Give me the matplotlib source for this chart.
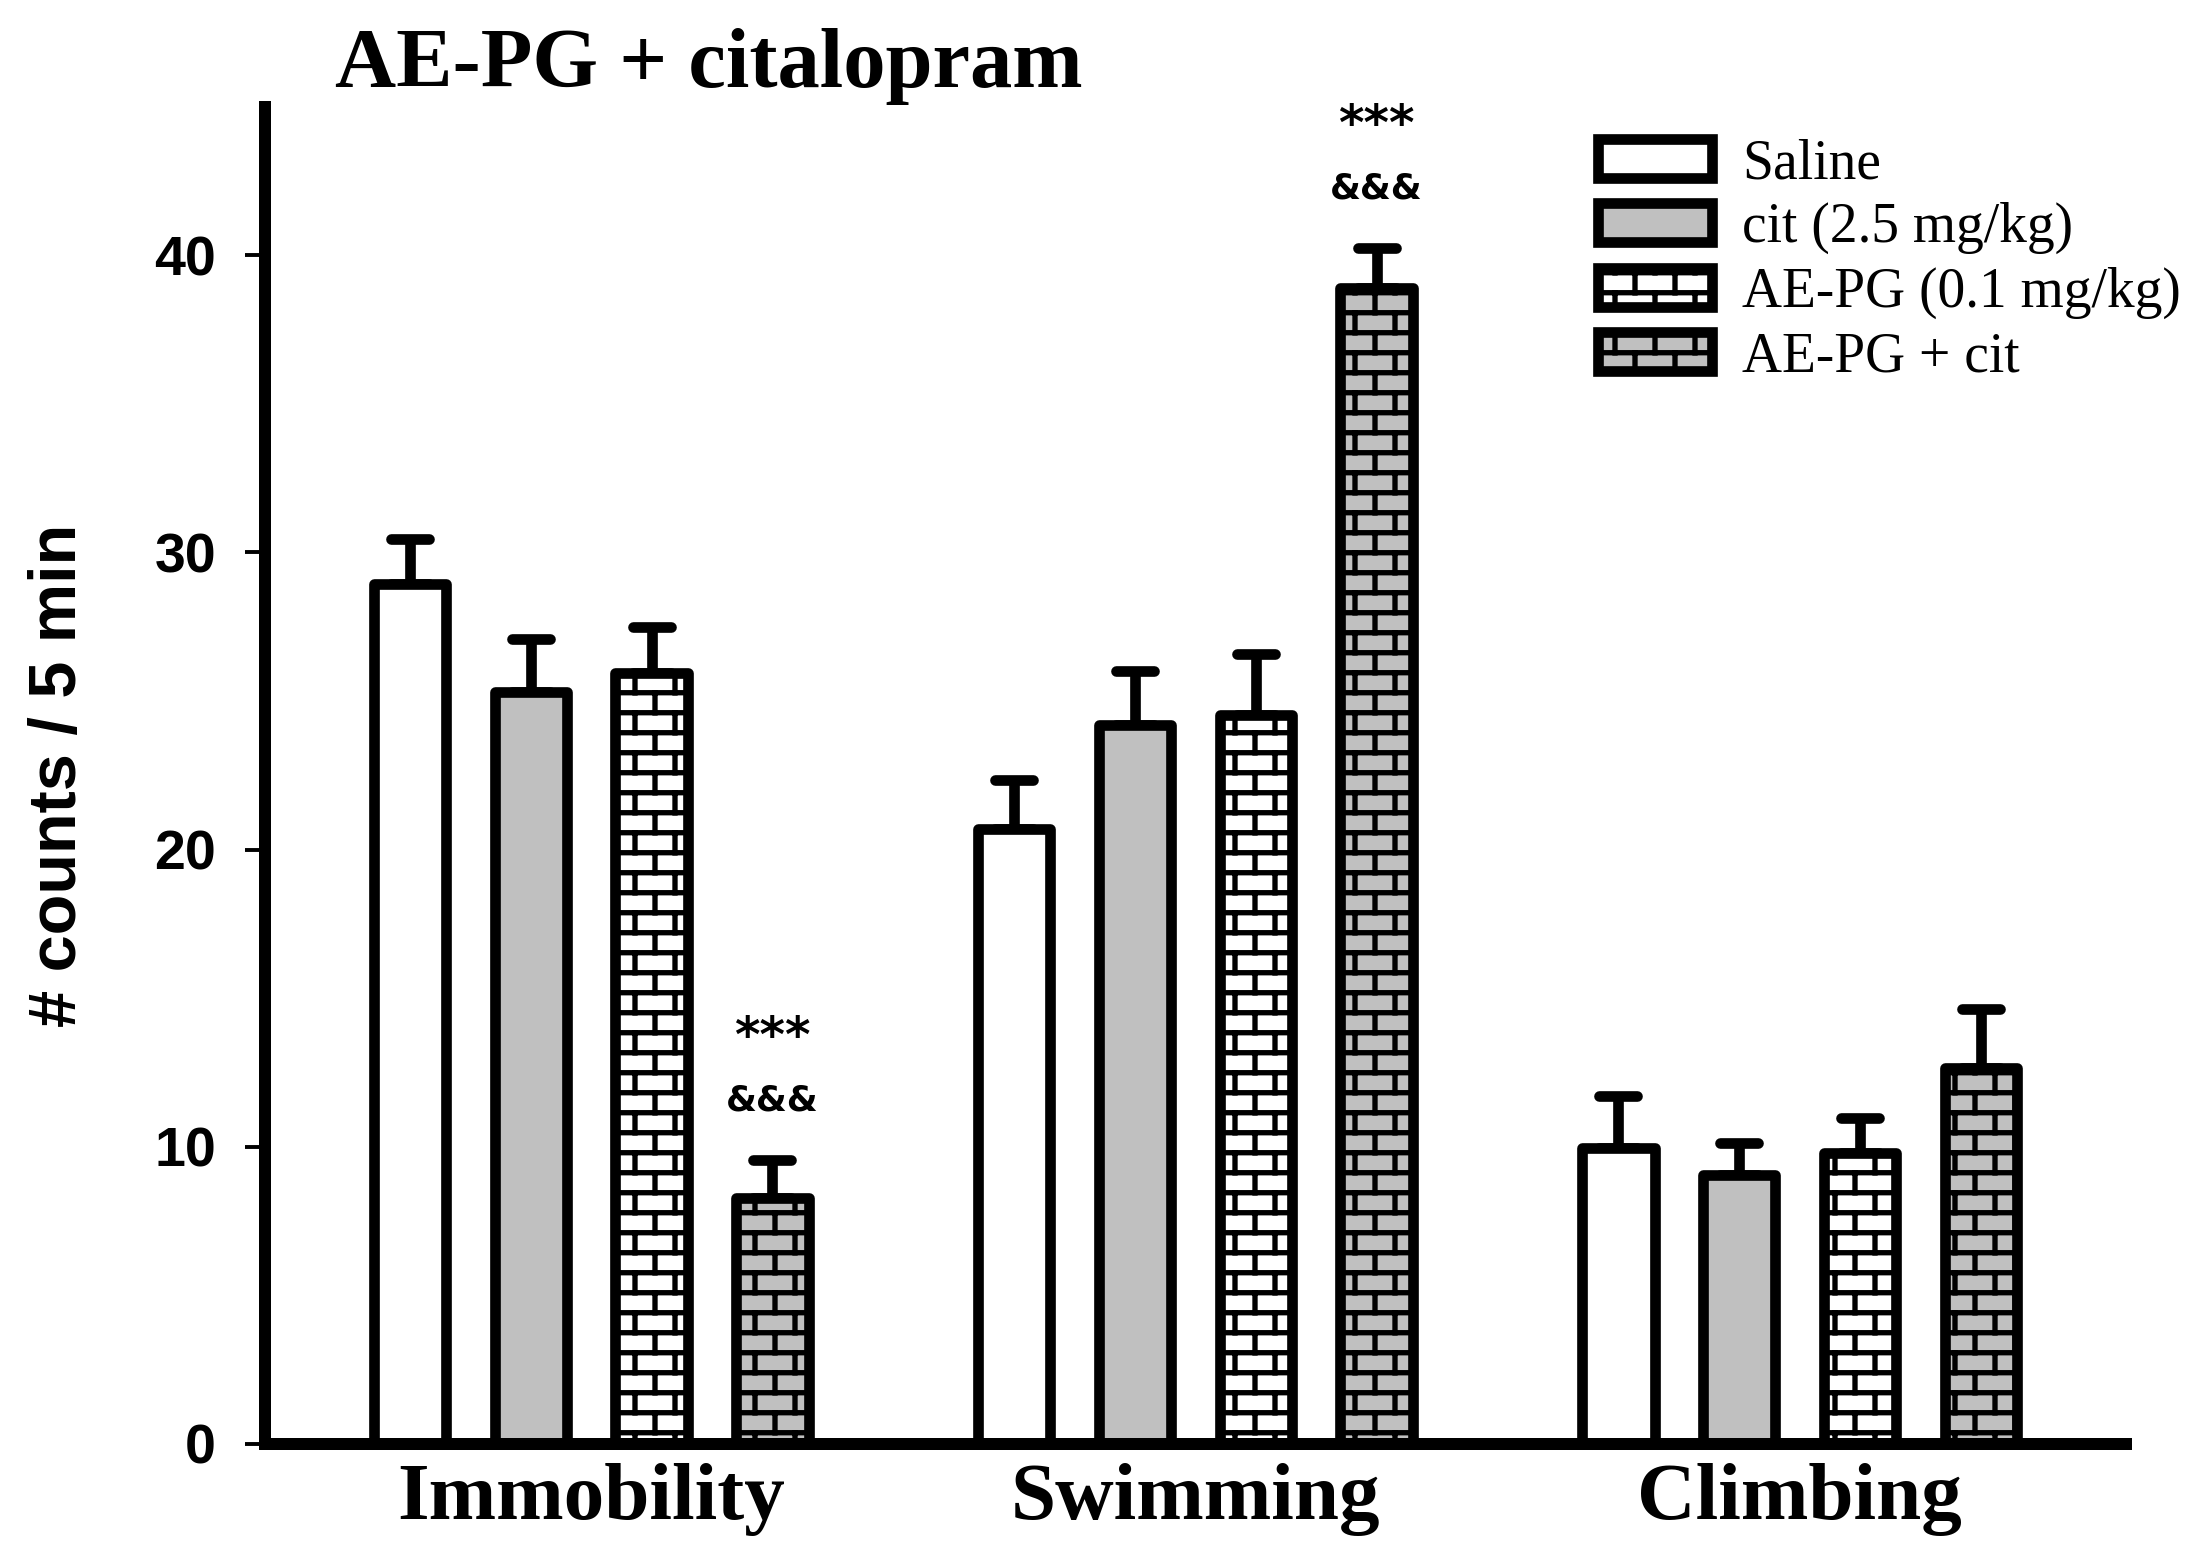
import warnings
import numpy as np
import matplotlib
matplotlib.use('Agg')
import matplotlib.pyplot as plt
import matplotlib.hatch as mhatch
from matplotlib.markers import MarkerStyle
from matplotlib.path import Path

warnings.filterwarnings('ignore')

# ---- data ----
behaviours = ['Immobility', 'Swimming', 'Climbing']
groups = ['Saline', 'cit (2.5 mg/kg)', 'AE-PG (0.1 mg/kg)', 'AE-PG + cit']

saline_mean = [28.94, 20.70, 9.95]
saline_sem = [1.52, 1.64, 1.77]
cit_mean = [25.29, 24.18, 9.05]
cit_sem = [1.79, 1.84, 1.07]
aepg_mean = [25.95, 24.53, 9.78]
aepg_sem = [1.55, 2.04, 1.18]
combo_mean = [8.28, 38.90, 12.64]
combo_sem = [1.28, 1.34, 2.01]

sig_vs_saline = ['***', '***', '']
sig_vs_cit = ['&&&', '&&&', '']

y_ticks = [0, 10, 20, 30, 40]

DPI = 80


class BrickHatch(mhatch.HatchPatternBase):
    """Running-bond bricks: 2 bricks across, 4 courses per hatch cell."""
    courses = [0.091, 0.341, 0.591, 0.841]
    joints = [(0.091, 0.341, (0.1875, 0.6875)),
              (0.341, 0.591, (0.4375, 0.9375)),
              (0.591, 0.841, (0.1875, 0.6875)),
              (0.841, 1.05, (0.4375, 0.9375)),
              (-0.05, 0.091, (0.4375, 0.9375))]

    def __init__(self, hatch, density):
        self.segs = []
        if 'b' in hatch:
            for y in self.courses:
                self.segs.append(((-0.05, y), (1.05, y)))
            for y0, y1, xs in self.joints:
                for x in xs:
                    self.segs.append(((x, y0), (x, y1)))
        self.num_vertices = 2 * len(self.segs)

    def set_vertices_and_codes(self, vertices, codes):
        for i, (p, q) in enumerate(self.segs):
            vertices[2 * i] = p
            vertices[2 * i + 1] = q
            codes[2 * i] = Path.MOVETO
            codes[2 * i + 1] = Path.LINETO


mhatch._hatch_types.append(BrickHatch)

plt.rcParams['hatch.linewidth'] = 4.8
plt.rcParams['hatch.color'] = 'black'

fig = plt.figure(figsize=(2193 / DPI, 1560 / DPI), dpi=DPI)
ax = fig.add_axes([0.1208, 0.0744, 0.8486, 0.8573])

means = [saline_mean, cit_mean, aepg_mean, combo_mean]
sems = [saline_sem, cit_sem, aepg_sem, combo_sem]
faces = ['white', '#c0c0c0', 'white', '#c0c0c0']
hatches = [None, None, 'b', 'b']
offsets = [-0.3, -0.1, 0.1, 0.3]
width = 0.12
x = np.arange(len(behaviours))

handles = []
for m, s, fc, h, off in zip(means, sems, faces, hatches, offsets):
    bars = ax.bar(x + off, m, width, facecolor=fc, edgecolor='black',
                  linewidth=9.6, hatch=h, joinstyle='round', zorder=2)
    handles.append(bars[0])
    eb = ax.errorbar(x + off, m, yerr=[np.zeros(len(m)), s], fmt='none',
                     ecolor='black', elinewidth=9.6, capsize=17,
                     capthick=9.6, zorder=1)
    for cap in eb[1]:
        cap.set_marker(MarkerStyle('_', capstyle='round'))

# significance marks above the combination bars
for i in range(len(behaviours)):
    top = combo_mean[i] + combo_sem[i]
    if sig_vs_saline[i]:
        ax.text(x[i] + offsets[3], top + 4.1, sig_vs_saline[i], ha='center',
                va='center', fontsize=44, fontweight='bold',
                family='DejaVu Sans')
    if sig_vs_cit[i]:
        ax.text(x[i] + offsets[3], top + 2.0, sig_vs_cit[i], ha='center',
                va='center', fontsize=32, fontweight='bold',
                family='DejaVu Sans')

ax.set_xlim(-0.540, 2.540)
ax.set_ylim(0, 45)

for side in ['top', 'right']:
    ax.spines[side].set_visible(False)
for side in ['left', 'bottom']:
    ax.spines[side].set_linewidth(10.8)
    ax.spines[side].set_zorder(3)

ax.set_yticks(y_ticks, labels=[str(t) for t in y_ticks], fontsize=50,
              fontweight='bold', family='Liberation Sans')
ax.set_xticks(x, labels=behaviours, fontsize=73, fontweight='bold',
              family='Liberation Serif')
ax.tick_params(axis='y', direction='out', length=18, width=3.5, pad=26)
ax.tick_params(axis='x', length=0, pad=17)

ax.set_ylabel('# counts / 5 min', fontsize=60, fontweight='bold',
              family='Liberation Sans', va='center')
ax.yaxis.set_label_coords(-0.1108, 0.5)

ax.set_title('AE-PG + citalopram', loc='left', x=0.0375, y=1.0147, pad=0,
             fontsize=76, fontweight='bold', family='Liberation Serif')

ax.legend(handles, groups, loc='upper left', bbox_to_anchor=(0.7287, 0.9115),
          bbox_transform=fig.transFigure, frameon=False, borderpad=0,
          borderaxespad=0, handlelength=2.06, handleheight=0.7,
          handletextpad=0.54, labelspacing=0.22,
          prop={'family': 'Liberation Serif', 'size': 50})

fig.savefig('out.png', dpi=DPI)
